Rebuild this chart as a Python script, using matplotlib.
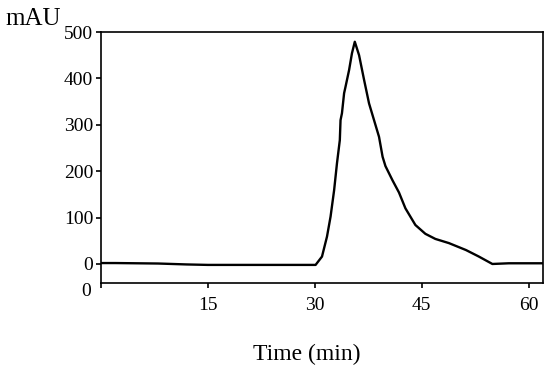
import matplotlib
matplotlib.use("Agg")
import matplotlib.pyplot as plt

# Data (time in min, absorbance in mAU)
time_min = [0, 2, 5, 8, 10, 12, 15, 18, 21, 24, 27, 29, 30.1, 31.0, 31.7, 32.2, 32.7, 33.1,
            33.5, 33.6, 33.8, 34.1, 34.3, 34.8, 35.2, 35.6, 36.2, 36.9, 37.6, 38.3,
            39.0, 39.5, 39.9, 40.9, 41.8, 42.7, 44.1, 45.5, 46.9, 48.8, 51.2, 53.0,
            54.9, 57.2, 60, 62.0]
signal_mau = [2, 2, 1.5, 1, 0, -1, -2, -2, -2, -2, -2, -2, -2, 16, 59, 102, 159, 217,
              267, 310, 325, 368, 382, 418, 454, 479, 450, 397, 346, 310,
              274, 231, 211, 180, 154, 120, 84, 65, 54, 45, 30, 16,
              0, 1.5, 1.5, 1.5]

xticks = [15, 30, 45, 60]
yticks = [0, 100, 200, 300, 400, 500]

plt.rcParams['font.family'] = ['Liberation Serif', 'DejaVu Serif']

fig = plt.figure(figsize=(5.5, 3.77), dpi=100)
ax = fig.add_axes([101 / 550, 1 - 283 / 377, 442 / 550, 251 / 377])

ax.plot(time_min, signal_mau, color='black', linewidth=1.7)

ax.set_xlim(0, 62.0)
ax.set_ylim(-41, 500)
ax.set_xticks([0] + xticks)
ax.set_xticklabels([''] + [str(t) for t in xticks])
ax.set_yticks(yticks)
ax.set_yticklabels([str(t) for t in yticks])

for s in ax.spines.values():
    s.set_linewidth(1.2)
ax.tick_params(axis='both', direction='out', length=3.6, width=1.2, labelsize=14)
ax.tick_params(axis='y', pad=2)
ax.tick_params(axis='x', pad=6.5)

ax.set_xlabel('Time (min)', fontsize=17, va='center')
ax.xaxis.set_label_coords((307 - 101) / 442, (283 - 354) / 251)
fig.text(5 / 550, 1 - 19 / 377, 'mAU', fontsize=18, ha='left', va='center')
fig.text(86 / 550, 1 - 291 / 377, '0', fontsize=14, ha='center', va='center')

fig.savefig('out.png', dpi=100)
